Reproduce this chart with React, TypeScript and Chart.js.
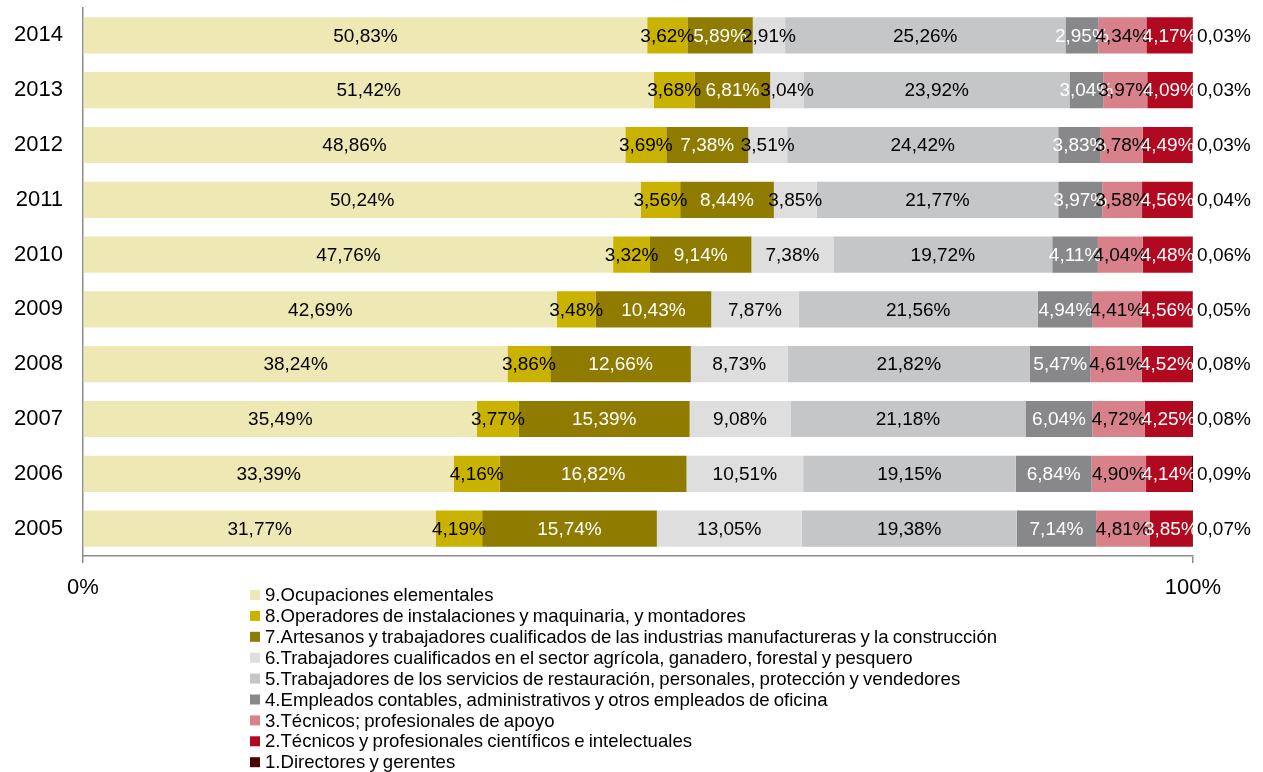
import React, { useEffect, useRef } from 'react';
import { Chart, registerables } from 'chart.js';

Chart.register(...registerables);

const years = ['2014', '2013', '2012', '2011', '2010', '2009', '2008', '2007', '2006', '2005'];

const seriesNames = [
  '9.Ocupaciones elementales',
  '8.Operadores de instalaciones y maquinaria, y montadores',
  '7.Artesanos y trabajadores cualificados de las industrias manufactureras y la construcción',
  '6.Trabajadores cualificados en el sector agrícola, ganadero, forestal y pesquero',
  '5.Trabajadores de los servicios de restauración, personales, protección y vendedores',
  '4.Empleados contables, administrativos y otros empleados de oficina',
  '3.Técnicos; profesionales de apoyo',
  '2.Técnicos y profesionales científicos e intelectuales',
  '1.Directores y gerentes',
];

const seriesColors = ['#EEE8B4', '#C9B300', '#8E7B00', '#DEDEDE', '#C5C6C8', '#88888A', '#D9818A', '#B10A20', '#4A0505'];
const labelColors = ['#000', '#000', '#fff', '#000', '#000', '#fff', '#000', '#fff', '#000'];

const s9 = [50.83, 51.42, 48.86, 50.24, 47.76, 42.69, 38.24, 35.49, 33.39, 31.77];
const s8 = [3.62, 3.68, 3.69, 3.56, 3.32, 3.48, 3.86, 3.77, 4.16, 4.19];
const s7 = [5.89, 6.81, 7.38, 8.44, 9.14, 10.43, 12.66, 15.39, 16.82, 15.74];
const s6 = [2.91, 3.04, 3.51, 3.85, 7.38, 7.87, 8.73, 9.08, 10.51, 13.05];
const s5 = [25.26, 23.92, 24.42, 21.77, 19.72, 21.56, 21.82, 21.18, 19.15, 19.38];
const s4 = [2.95, 3.04, 3.83, 3.97, 4.11, 4.94, 5.47, 6.04, 6.84, 7.14];
const s3 = [4.34, 3.97, 3.78, 3.58, 4.04, 4.41, 4.61, 4.72, 4.9, 4.81];
const s2 = [4.17, 4.09, 4.49, 4.56, 4.48, 4.56, 4.52, 4.25, 4.14, 3.85];
const s1 = [0.03, 0.03, 0.03, 0.04, 0.06, 0.05, 0.08, 0.08, 0.09, 0.07];

const seriesValues = [s9, s8, s7, s6, s5, s4, s3, s2, s1];

const xTicks = [0, 100];

const FONT = '"Liberation Sans", Arial, sans-serif';
const AXIS_COLOR = '#8c8c8c';

const fmt = (v: number) => v.toFixed(2).replace('.', ',') + '%';

const valueLabelPlugin = {
  id: 'valueLabels',
  afterDatasetsDraw(chart: any) {
    const ctx = chart.ctx;
    ctx.save();
    ctx.font = `19px ${FONT}`;
    ctx.textBaseline = 'middle';
    const last = chart.data.datasets.length - 1;
    chart.data.datasets.forEach((ds: any, di: number) => {
      const meta = chart.getDatasetMeta(di);
      meta.data.forEach((el: any, i: number) => {
        const v = ds.data[i];
        ctx.fillStyle = labelColors[di];
        if (di === last) {
          ctx.textAlign = 'left';
          ctx.fillText(fmt(v), Math.max(el.x, el.base) + 4, el.y + 1);
        } else {
          ctx.textAlign = 'center';
          ctx.fillText(fmt(v), (el.x + el.base) / 2, el.y + 1);
        }
      });
    });
    ctx.restore();
  },
};

const verticalLegendPlugin = {
  id: 'verticalLegend',
  afterDraw(chart: any) {
    const ctx = chart.ctx;
    const area = chart.chartArea;
    const x0 = area.left + 167;
    const y0 = area.bottom + 39;
    const step = 20.9;
    ctx.save();
    ctx.font = `18.6px ${FONT}`;
    try {
      (ctx as any).wordSpacing = '-1px';
    } catch (e) {
      /* ignore */
    }
    ctx.textBaseline = 'middle';
    ctx.textAlign = 'left';
    chart.data.datasets.forEach((ds: any, i: number) => {
      const y = y0 + i * step;
      ctx.fillStyle = ds.backgroundColor;
      ctx.fillRect(x0, y - 5, 10, 10);
      ctx.fillStyle = '#000';
      ctx.fillText(ds.label, x0 + 15, y + 1);
    });
    ctx.restore();
  },
};

export default function App() {
  const canvasRef = useRef<HTMLCanvasElement | null>(null);

  useEffect(() => {
    if (!canvasRef.current) return;
    const chart = new Chart(canvasRef.current, {
      type: 'bar',
      data: {
        labels: years,
        datasets: seriesNames.map((name, i) => ({
          label: name,
          data: seriesValues[i],
          backgroundColor: seriesColors[i],
          borderWidth: 0,
          barPercentage: 0.66,
          categoryPercentage: 1,
        })),
      },
      options: {
        indexAxis: 'y',
        responsive: false,
        animation: false,
        devicePixelRatio: 1,
        layout: { padding: { top: 8, right: 70, left: 0, bottom: 0 } },
        plugins: {
          legend: { display: false },
          tooltip: { enabled: false },
          title: { display: false },
        },
        scales: {
          x: {
            stacked: true,
            min: 0,
            max: 100,
            afterBuildTicks: (scale: any) => {
              scale.ticks = xTicks.map((v) => ({ value: v }));
            },
            afterFit: (scale: any) => {
              scale.height = 216;
              scale.paddingLeft = 0;
              scale.paddingRight = 0;
            },
            ticks: {
              callback: (v: any) => v + '%',
              font: { family: FONT, size: 22 },
              color: '#000',
              padding: 12,
              maxRotation: 0,
              autoSkip: false,
            },
            grid: {
              drawOnChartArea: false,
              drawTicks: true,
              tickLength: 7,
              color: AXIS_COLOR,
              lineWidth: 1.5,
            },
            border: { display: true, color: AXIS_COLOR, width: 1.5 },
          },
          y: {
            stacked: true,
            afterFit: (scale: any) => {
              scale.width = 83;
              scale.paddingTop = 0;
              scale.paddingBottom = 0;
            },
            ticks: {
              font: { family: FONT, size: 22 },
              color: '#000',
              padding: 20,
            },
            grid: { drawOnChartArea: false, drawTicks: false, display: false },
            border: { display: true, color: AXIS_COLOR, width: 1.5 },
          },
        },
      },
      plugins: [valueLabelPlugin, verticalLegendPlugin],
    } as any);
    return () => chart.destroy();
  }, []);

  return (
    <div style={{ position: 'fixed', left: 0, top: 0, width: 1263, height: 772, background: '#fff' }}>
      <canvas ref={canvasRef} width={1263} height={772} style={{ width: 1263, height: 772, display: 'block' }} />
    </div>
  );
}
